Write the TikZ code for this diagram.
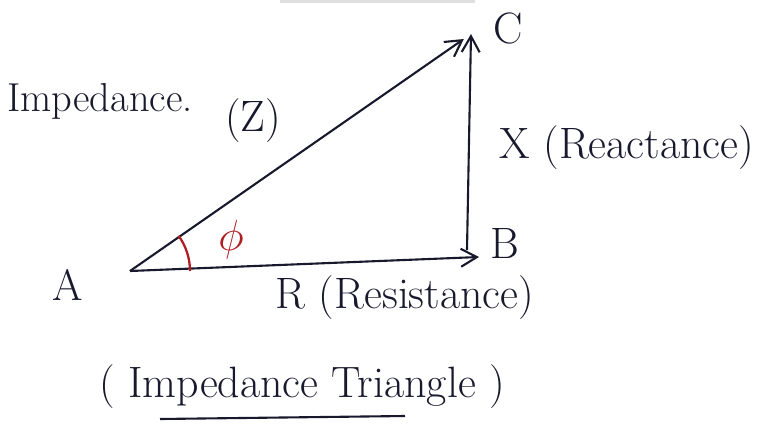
\documentclass[tikz,border=0pt]{standalone}
\usetikzlibrary{arrows.meta,positioning}
\definecolor{inkblue}{RGB}{25,25,45}
\definecolor{phired}{RGB}{175,30,35}

\begin{document}
\begin{tikzpicture}[x=0.02cm, y=-0.02cm,
    vec/.style={-{Straight Barb[length=3.2mm,width=3.6mm]}, line width=1.2pt, draw=inkblue},
    hand/.style={font=\fontsize{25}{30}\selectfont, text=inkblue, inner sep=0pt},
    angmark/.style={draw=phired, line width=1.3pt}
  ]
  \useasboundingbox (0,0) rectangle (765,437);
  \fill[gray!25] (280,0) rectangle (475,3);

  % corners of the triangle
  \coordinate (a) at (130,271);
  \coordinate (b) at (479,257);
  \coordinate (bv) at (467,250);
  \coordinate (c) at (471,34);

  \draw[vec] (a) -- (b);
  \draw[vec] (bv) -- (c);
  \draw[vec, shorten >=5pt] (a) -- (c);

  \node[hand] (alabel) at (68,285) {A};
  \node[hand] (blabel) at (505,243) {B};
  \node[hand] (clabel) at (508,28) {C};

  \node[hand, font=\fontsize{23}{28}\selectfont] (imp) at (100,101) {Impedance.};
  \node[hand] (zsym) at (253,121) {(Z)};
  \node[hand] (xlabel) at (627,148) {X (Reactance)};
  \node[hand] (rlabel) at (405,298) {R (Resistance)};

  % angle phi
  \draw[angmark] ([shift={(0:60)}]a) arc[start angle=0, end angle=-36, radius=60];
  \node[hand, text=phired, font=\fontsize{30}{34}\selectfont] (phi) at (231,240) {$\phi$};

  \node[hand] (title) at (302,387) {( Impedance Triangle )};
  \draw[line width=1.2pt, draw=inkblue] (160,419) -- (405,416);
\end{tikzpicture}
\end{document}
